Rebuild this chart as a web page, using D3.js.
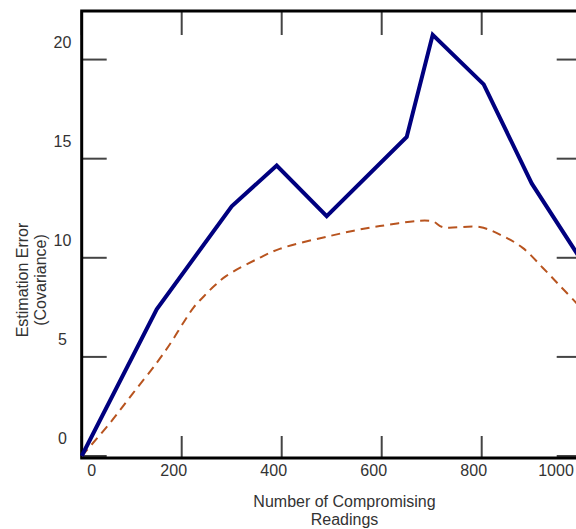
<!DOCTYPE html>
<html><head><meta charset="utf-8">
<script src="https://cdn.jsdelivr.net/npm/d3@7"></script>
<style>html,body{margin:0;padding:0;background:#fff;}svg{display:block;}</style>
</head><body>
<svg id="chart" width="576" height="529"></svg>
<script>
// Data
const solidX = [0, 150, 300, 390, 490, 650, 702, 804, 900, 1000];
const solidY = [0, 7.4, 12.6, 14.65, 12.1, 16.1, 21.25, 18.75, 13.75, 9.85];
const dashX = [0, 56, 102, 150, 178, 204, 224, 244, 266, 290, 356, 396, 496, 596, 700, 722, 796, 842, 882, 922, 956, 988, 1000];
const dashY = [0, 1.65, 3.15, 4.7, 5.7, 6.75, 7.5, 8.05, 8.6, 9.1, 10.0, 10.45, 11.1, 11.6, 11.85, 11.55, 11.55, 11.1, 10.5, 9.5, 8.6, 7.75, 7.4];
const xTicks = [0, 200, 400, 600, 800, 1000];
const yTicks = [0, 5, 10, 15, 20];
const xTitle = ["Number of Compromising", "Readings"];
const yTitle = ["Estimation Error", "(Covariance)"];

const svg = d3.select("#chart");
const L = 81.7, R = 581.7, T = 11, B = 458;
const x = d3.scaleLinear().domain([0, 1000]).range([L, R]);
const y = d3.scaleLinear().domain([-0.1, 22.45]).range([B, T]);
const font = "Liberation Sans, Arial, sans-serif";
const W = 576;
const fs = 16;
const tc = "#333";

// ticks (inward, on all sides)
const tk = svg.append("g").attr("stroke", "#444").attr("stroke-width", 2);
xTicks.forEach(v => {
  tk.append("line").attr("x1", x(v)).attr("x2", x(v)).attr("y1", B).attr("y2", B - 22);
  tk.append("line").attr("x1", x(v)).attr("x2", x(v)).attr("y1", T).attr("y2", T + 24);
});
yTicks.forEach(v => {
  tk.append("line").attr("x1", L).attr("x2", L + 25).attr("y1", y(v)).attr("y2", y(v));
  tk.append("line").attr("x1", R).attr("x2", R - 25).attr("y1", y(v)).attr("y2", y(v));
});

// frame
svg.append("rect").attr("x", L).attr("y", T).attr("width", R - L).attr("height", B - T)
  .attr("fill", "none").attr("stroke", "#000").attr("stroke-width", 3);

// tick labels
svg.append("g").selectAll("text").data(xTicks).join("text")
  .attr("x", d => Math.min(Math.max(x(d) - 8, L + 10), W - 20))
  .attr("y", B + 18)
  .attr("text-anchor", "middle").attr("font-family", font).attr("font-size", fs).attr("fill", tc)
  .text(d => d);
svg.append("g").selectAll("text").data(yTicks).join("text")
  .attr("x", 62.5).attr("y", d => y(d) - 18 + 6)
  .attr("text-anchor", "middle").attr("font-family", font).attr("font-size", fs).attr("fill", tc)
  .text(d => d);

// axis titles
xTitle.forEach((t, i) => {
  svg.append("text").attr("x", 344.5).attr("y", 506.5 + i * 18.5)
    .attr("text-anchor", "middle").attr("font-family", font).attr("font-size", fs).attr("fill", tc).text(t);
});
yTitle.forEach((t, i) => {
  svg.append("text").attr("transform", `translate(${28 + i * 18},280) rotate(-90)`)
    .attr("text-anchor", "middle").attr("font-family", font).attr("font-size", fs).attr("fill", tc).text(t);
});

// lines
const dashData = dashX.map((d, i) => [d, dashY[i]]);
const solidData = solidX.map((d, i) => [d, solidY[i]]);
svg.append("path").datum(dashData)
  .attr("d", d3.line().x(d => x(d[0])).y(d => y(d[1])).curve(d3.curveCatmullRom.alpha(0.5)))
  .attr("fill", "none").attr("stroke", "#b8541f").attr("stroke-width", 2).attr("stroke-dasharray", "9,6");
svg.append("path").datum(solidData)
  .attr("d", d3.line().x(d => x(d[0])).y(d => y(d[1])))
  .attr("fill", "none").attr("stroke", "#00007f").attr("stroke-width", 4).attr("stroke-linejoin", "miter");
</script>
</body></html>
